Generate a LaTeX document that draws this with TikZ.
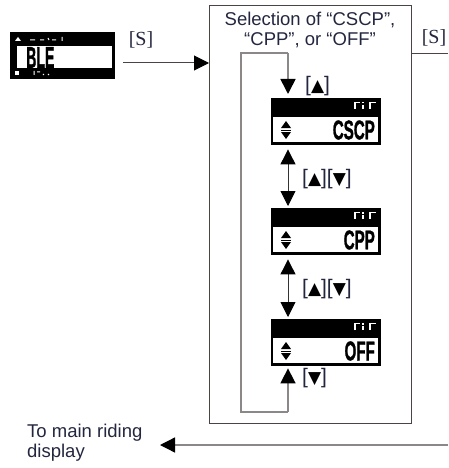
\documentclass[tikz,border=0pt]{standalone}
\usepackage{fontspec}
\usepackage{graphicx}
\setmainfont{Liberation Sans}
\newfontfamily\serifx{Liberation Serif}
\newfontfamily\dejavu{DejaVu Sans}
\newfontfamily\lcdfont[FakeBold=1.5]{Liberation Sans Bold}
\usetikzlibrary{arrows.meta}
\definecolor{boxgray}{HTML}{4A4444}
\definecolor{loopgray}{HTML}{8C8888}
\definecolor{labc}{HTML}{23263F}
\tikzset{
  lcd/.style={fill=black, draw=black, minimum width=109pt, minimum height=46pt, inner sep=0pt, anchor=north west},
  tri/.style={-{Triangle[length=15pt,width=15pt,color=black]}},
  dbl/.style={{Triangle[length=15pt,width=15pt,color=black]}-{Triangle[length=15pt,width=15pt,color=black]}, draw=black!80, line width=0.9pt},
  loopln/.style={draw=loopgray, line width=1.6pt},
  keylab/.style={font=\fontsize{21}{21}\selectfont, text=labc, inner sep=0pt},
  slab/.style={font=\serifx\fontsize{20}{20}\selectfont, text=labc, inner sep=0pt},
  lcdmark/.style={white, line width=1.3pt},
}
\newcommand\tup{{\dejavu\fontsize{17}{17}\selectfont\textcolor{black}{▲}}}
\newcommand\tdn{{\dejavu\fontsize{17}{17}\selectfont\textcolor{black}{▼}}}
\newcommand\lcddisp[3]{%
  \node[lcd] (#1) at (271,#2) {};
  \fill[white] ([xshift=2.2pt,yshift=-19pt]#1.north west) rectangle ([xshift=-2.2pt,yshift=2.2pt]#1.south east);
  % up/down icon
  \fill[black] (281,#2+30) -- (291,#2+30) -- (286,#2+23) -- cycle;
  \draw[black, line width=1pt] (281,#2+32) -- (291,#2+32);
  \fill[black] (281,#2+34) -- (291,#2+34) -- (286,#2+41) -- cycle;
  % small LCD glyphs in top bar
  \draw[lcdmark] (355,#2+11) -- (355,#2+4.5) -- (360,#2+4.5);
  \draw[lcdmark] (363,#2+7) -- (363,#2+11);
  \fill[white] (362.3,#2+4) rectangle (363.7,#2+5.5);
  \draw[lcdmark] (370,#2+11) -- (370,#2+4.5) -- (376,#2+4.5);
  \node[anchor=east, inner sep=0pt] at (375,#2+32)
    {\scalebox{0.56}[1]{\lcdfont\fontsize{27}{27}\selectfont #3}};
}
\begin{document}
\begin{tikzpicture}[x=1pt,y=-1pt]
\useasboundingbox (0,0) rectangle (448,468);

% BLE display
\node[fill=black, minimum width=105pt, minimum height=47pt, inner sep=0pt, anchor=north west] (ble) at (10,32) {};
\fill[white] (17,46) rectangle (112,68);
\node[anchor=west, inner sep=0pt] (bletxt) at (26,57.5)
  {\scalebox{0.47}[1]{\lcdfont\fontsize{30}{30}\selectfont BLE}};
\fill[white] (15,41) -- (21,41) -- (18,37) -- cycle;
\draw[white, line width=1pt] (30,40) -- (35,40) (40,40) -- (44,40) (48,38) -- (49,40) (52,40) -- (56,40) (62,37) -- (62,41);
\fill[white] (15,71) rectangle (19,75);
\draw[white, line width=1pt] (34,71) -- (34,75) (37,72) -- (40,72) (43,74) -- (44,75) (48,74) -- (49,75);

% main box
\node[draw=boxgray, line width=1.2pt, minimum width=202pt, minimum height=418pt, inner sep=0pt, anchor=north west] (box) at (209,5) {};
\node[align=center, font=\fontsize{18.5}{19.5}\selectfont, text=labc, inner sep=0pt] (title) at (310,30)
  {Selection of “CSCP”,\\“CPP”, or “OFF”};

% arrow from BLE into box
\coordinate (s1) at (123,63);
\draw[boxgray, line width=1pt, tri] (s1) -- (box.west |- s1);
\node[slab] (slab1) at (141,40) {[S]};

% exit to the right
\coordinate (r1) at (448,54);
\draw[boxgray, line width=1pt] (box.east |- r1) -- (r1);
\node[slab] (slab2) at (434,38) {[S]};

% displays
\lcddisp{cscp}{98}{CSCP}
\lcddisp{cpp}{208}{CPP}
\lcddisp{off}{319}{OFF}

% loop
\coordinate (la) at (241,53);
\coordinate (lb) at (288,53);
\coordinate (lc) at (241,412);
\coordinate (ld) at (288,412);
\draw[loopln] (ld) -- (lc) -- (la) -- (lb);
\draw[loopln, tri] (lb) -- ([yshift=4pt]cscp.north -| lb);
\draw[loopln, tri] (ld) -- ([yshift=-3pt]off.south -| ld);

% double arrows
\draw[dbl] ([yshift=-5pt]cscp.south -| lb) -- ([yshift=2pt]cpp.north -| lb);
\draw[dbl] ([yshift=-5pt]cpp.south -| lb) -- ([yshift=2pt]off.north -| lb);

% key labels
\node[keylab, anchor=west] (k1) at (305,86) {[\tup]};
\node[keylab, anchor=west] (k2) at (302,179) {[\tup][\tdn]};
\node[keylab, anchor=west] (k3) at (302,289) {[\tup][\tdn]};
\node[keylab, anchor=west] (k4) at (302,378) {[\tdn]};

% return to main display
\node[align=left, anchor=west, font=\fontsize{18.5}{20}\selectfont, text=labc, inner sep=0pt] (main) at (27,443)
  {To main riding\\display};
\coordinate (r2) at (448,445);
\coordinate (t2) at (160,445);
\draw[loopgray, line width=1.3pt, tri] (r2) -- (t2);
\end{tikzpicture}
\end{document}
